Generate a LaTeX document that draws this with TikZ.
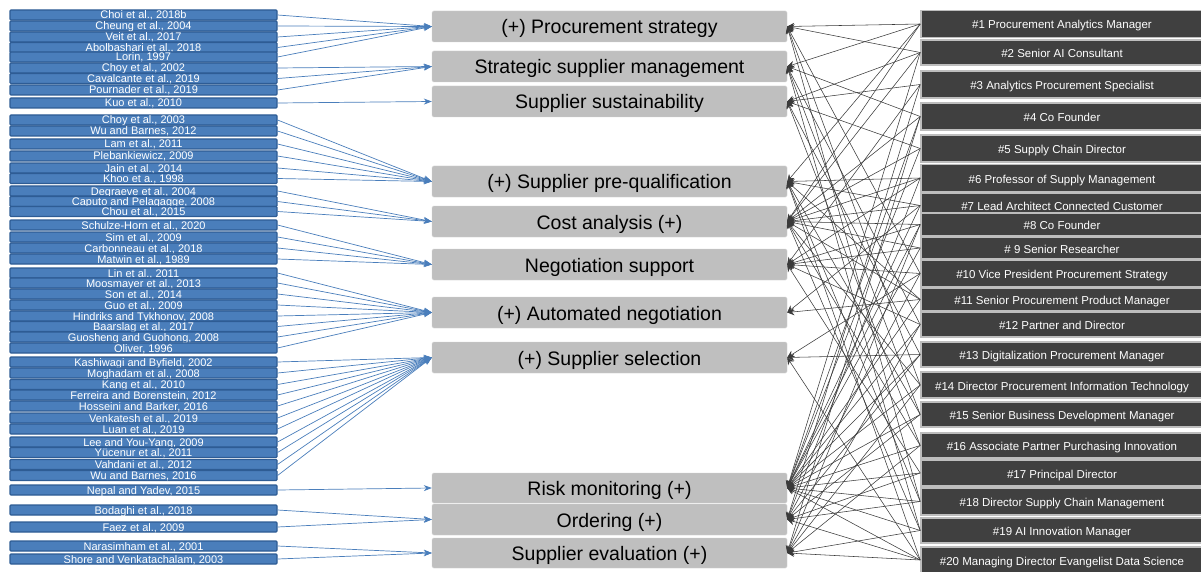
\documentclass[tikz,border=0pt]{standalone}
\usepackage{fontspec}
\setmainfont{Liberation Sans}
\usetikzlibrary{arrows.meta}

\definecolor{litfill}{HTML}{4A7EBB}
\definecolor{litedge}{HTML}{2E5C94}
\definecolor{topicfill}{HTML}{BFBFBF}
\definecolor{expfill}{HTML}{404040}
\definecolor{expedge}{HTML}{BDBDBD}
\definecolor{linkgray}{HTML}{3A3A3A}

\tikzset{
  litbox/.style={draw=litedge,fill=litfill,line width=1.1pt,rounded corners=1pt,
    minimum width=267pt,minimum height=10pt,inner sep=0pt,text height=9pt,text depth=1pt,
    text=white,font=\fontsize{11}{11}\selectfont},
  topicbox/.style={fill=topicfill,draw=topicfill!70!white,rounded corners=1.5pt,
    minimum width=355pt,inner sep=0pt,text height=17pt,text depth=2pt,
    font=\fontsize{19.5}{19.5}\selectfont},
  expbox/.style={fill=expfill,draw=expedge,line width=1.6pt,minimum width=282pt,
    inner sep=0pt,text height=11pt,text depth=1pt,text=white,font=\fontsize{11.5}{11.5}\selectfont},
  litarrow/.style={draw=litfill,line width=0.7pt,-{Stealth[length=8pt,width=6pt]}},
  exarrow/.style={draw=linkgray,line width=0.55pt,-{Stealth[length=7pt,width=7pt]}}
}

\begin{document}
\begin{tikzpicture}[x=1pt,y=-1pt]
  \useasboundingbox (0,0) rectangle (1201,572);

  % literature
  \foreach \i/\yc/\txt in {1/15/{Choi et al., 2018b},2/26/{Cheung et al., 2004},3/37/{Veit et al., 2017},
      4/47.5/{Abolbashari et al., 2018},5/57/{Lorin, 1997},6/68/{Choy et al., 2002},
      7/78.5/{Cavalcante et al., 2019},8/90/{Pournader et al., 2019},9/103/{Kuo et al., 2010},
      10/120/{Choy et al., 2003},11/131/{Wu and Barnes, 2012},12/144/{Lam et al., 2011},
      13/156/{Plebankiewicz, 2009},14/168/{Jain et al., 2014},15/178.5/{Khoo et a., 1998},
      16/191/{Degraeve et al., 2004},17/201.5/{Caputo and Pelagagge, 2008},18/211.5/{Chou et al., 2015},
      19/225/{Schulze-Horn et al., 2020},20/237/{Sim et al., 2009},21/248/{Carbonneau et al., 2018},
      22/259/{Matwin et al., 1989},23/273/{Lin et al., 2011},24/283/{Moosmayer et al., 2013},
      25/294/{Son et al., 2014},26/305/{Guo et al., 2009},27/316/{Hindriks and Tykhonov, 2008},
      28/326.5/{Baarslag et al., 2017},29/337/{Guosheng and Guohong, 2008},30/348/{Oliver, 1996},
      31/362/{Kashiwagi and Byfield, 2002},32/373/{Moghadam et al., 2008},33/384.5/{Kang et al., 2010},
      34/395/{Ferreira and Borenstein, 2012},35/406/{Hosseini and Barker, 2016},
      36/418/{Venkatesh et al., 2019},37/429/{Luan et al., 2019},38/442/{Lee and You-Yang, 2009},
      39/452.5/{Yücenur et al., 2011},40/464.5/{Vahdani et al., 2012},41/475.5/{Wu and Barnes, 2016},
      42/490/{Nepal and Yadev, 2015},43/510/{Bodaghi et al., 2018},44/527/{Faez et al., 2009},
      45/546/{Narasimham et al., 2001},46/559/{Shore and Venkatachalam, 2003}}
    \node[litbox] (lit\i) at (143.5,\yc) {\txt};

  % application areas
  \foreach \name/\yc/\h/\txt in {pstrat/26.5/31/{(+) Procurement strategy},
      ssm/66.5/31/{Strategic supplier management},ssus/101.5/31/{Supplier sustainability},
      preq/181.5/31/{(+) Supplier pre-qualification},cost/221.5/31/{Cost analysis (+)},
      negsup/264.5/31/{Negotiation support},autoneg/312.5/31/{(+) Automated negotiation},
      ssel/357.5/31/{(+) Supplier selection},risk/488/30/{Risk monitoring (+)},
      order/519.5/31/{Ordering (+)},seval/553/30/{Supplier evaluation (+)}}
    \node[topicbox,minimum height=\h pt] (\name) at (609.5,\yc) {\txt};

  % experts
  \foreach \n/\yc/\h/\txt in {1/24/27/{\#1 Procurement Analytics Manager},2/52.5/25/{\#2 Senior AI Consultant},
      3/84.5/27/{\#3 Analytics Procurement Specialist},4/116.5/27/{\#4 Co Founder},
      5/148.5/27/{\#5 Supply Chain Director},6/178/27/{\#6 Professor of Supply Management},
      7/205.5/25/{\#7 Lead Architect Connected Customer},8/224.5/23/{\#8 Co Founder},
      9/248/21/{\# 9 Senior Researcher},10/273.5/27/{\#10 Vice President Procurement Strategy},
      11/299.5/23/{\#11 Senior Procurement Product Manager},12/324.5/25/{\#12 Partner and Director},
      13/354.5/25/{\#13 Digitalization Procurement Manager},14/385/26/{\#14 Director Procurement Information Technology},
      15/414.5/25/{\#15 Senior Business Development Manager},16/445.5/25/{\#16 Associate Partner Purchasing Innovation},
      17/473/26/{\#17 Principal Director},18/501.5/27/{\#18 Director Supply Chain Management},
      19/530.5/25/{\#19 AI Innovation Manager},20/560/26/{\#20 Managing Director Evangelist Data Science}}
    \node[expbox,minimum height=\h pt] (ex\n) at (1062,\yc) {\txt};

  % literature -> areas
  \foreach \t/\lits in {pstrat/{1,2,3,4,5},ssm/{6,7,8},ssus/{9},preq/{10,11,12,13,14,15},
      cost/{16,17,18},negsup/{19,20,21,22},autoneg/{23,24,25,26,27,28,29,30},
      ssel/{31,32,33,34,35,36,37,38,39,40,41},risk/{42},order/{43,44},seval/{45,46}}
    \foreach \i in \lits
      \draw[litarrow] (lit\i.east) -- (\t.west);

  % experts -> areas
  \foreach \e/\tops in {1/{pstrat,ssm,preq,cost},2/{pstrat,ssus,cost,risk},3/{ssus,negsup,order},
      4/{ssm,cost,risk,seval},5/{ssus,cost,risk},6/{preq,cost,negsup,order},
      7/{preq,cost,autoneg,risk},8/{cost,negsup,risk,seval},9/{cost,negsup,risk},
      10/{pstrat,negsup,ssel,order},11/{preq,cost,autoneg,risk},12/{ssm,negsup,risk,seval},
      13/{ssus,ssel,risk,order},14/{pstrat,cost,risk,seval},15/{ssm,preq,risk,order},
      16/{ssus,cost,risk,seval},17/{negsup,risk,order},18/{pstrat,preq,risk,order},
      19/{ssm,cost,risk,seval},20/{preq,ssel,risk,order,seval}}
    \foreach \t in \tops
      \draw[exarrow] (ex\e.west) -- (\t.east);
\end{tikzpicture}
\end{document}
